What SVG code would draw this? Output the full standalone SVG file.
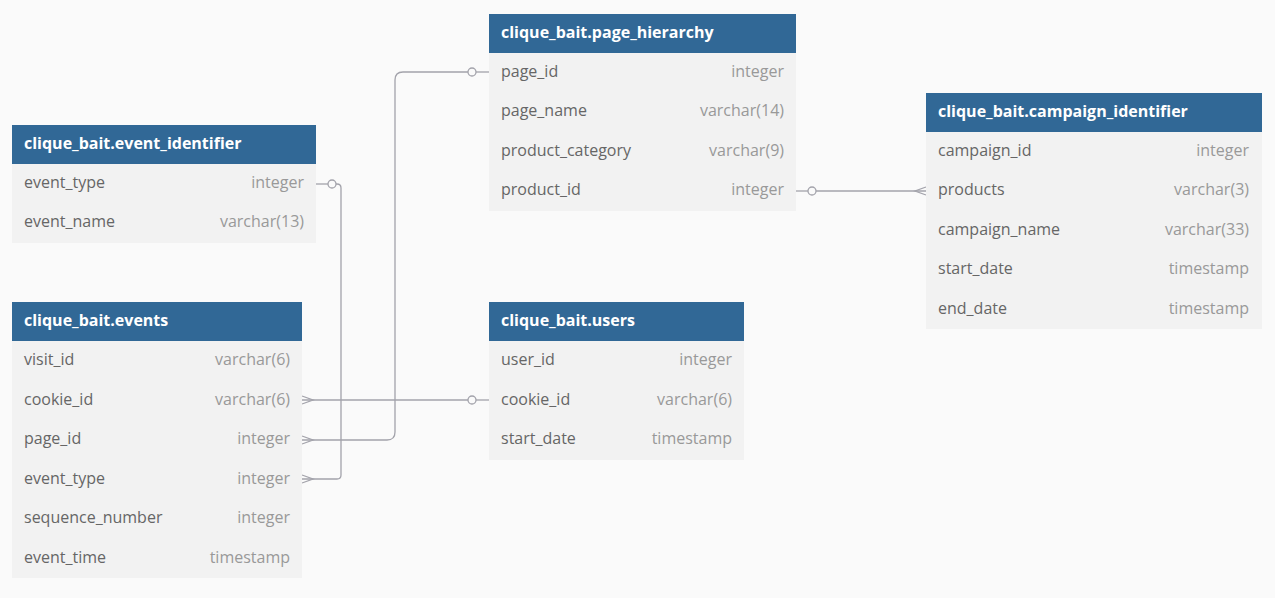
<svg xmlns="http://www.w3.org/2000/svg" width="1275" height="598" viewBox="0 0 1275 598">
<style>
.bg{fill:#fafafa}
.hd{fill:#316896}
.bd{fill:#f2f2f2}
.ht{font-family:"Open Sans",sans-serif;font-size:16px;font-weight:bold;fill:#ffffff}
.fn{font-family:"Open Sans",sans-serif;font-size:16px;fill:#666666}
.ft{font-family:"Open Sans",sans-serif;font-size:16px;fill:#999999;text-anchor:end}
.ln{fill:none;stroke:#a3a3ab;stroke-width:1.3}
.ci{fill:#fafafa;stroke:#a3a3ab;stroke-width:1.3}
</style>
<rect class="bg" x="0" y="0" width="1275" height="598"/>

<g id="connectors">
  <!-- event_identifier.event_type -> events.event_type -->
  <path class="ln" d="M316 184 H328"/>
  <circle class="ci" cx="332" cy="184" r="4"/>
  <path class="ln" d="M336 184 H337 Q341 184 341 188 V475 Q341 479 337 479 H302"/>
  <path class="ln" d="M302 475 L313 479 L302 483"/>
  <!-- events.cookie_id -> users.cookie_id -->
  <path class="ln" d="M302 400 H468"/>
  <path class="ln" d="M302 396 L313 400 L302 404"/>
  <circle class="ci" cx="472" cy="400" r="4"/>
  <path class="ln" d="M476 400 H489"/>
  <!-- events.page_id -> page_hierarchy.page_id -->
  <path class="ln" d="M302 440 H387 Q395 440 395 432 V80 Q395 72 403 72 H468"/>
  <path class="ln" d="M302 436 L313 440 L302 444"/>
  <circle class="ci" cx="472" cy="72" r="4"/>
  <path class="ln" d="M476 72 H489"/>
  <!-- page_hierarchy.product_id -> campaign_identifier.products -->
  <path class="ln" d="M796 191 H808"/>
  <circle class="ci" cx="812" cy="191" r="4"/>
  <path class="ln" d="M816 191 H926"/>
  <path class="ln" d="M926 187 L915 191 L926 195"/>
</g>

<g id="event_identifier">
  <rect class="hd" x="12" y="125" width="304" height="39"/>
  <rect class="bd" x="12" y="164" width="304" height="79"/>
  <text class="ht" x="24" y="149">clique_bait.event_identifier</text>
  <text class="fn" x="24" y="188">event_type</text><text class="ft" x="304" y="188">integer</text>
  <text class="fn" x="24" y="227">event_name</text><text class="ft" x="304" y="227">varchar(13)</text>
</g>

<g id="page_hierarchy">
  <rect class="hd" x="489" y="14" width="307" height="39"/>
  <rect class="bd" x="489" y="53" width="307" height="158"/>
  <text class="ht" x="501" y="38">clique_bait.page_hierarchy</text>
  <text class="fn" x="501" y="77">page_id</text><text class="ft" x="784" y="77">integer</text>
  <text class="fn" x="501" y="116">page_name</text><text class="ft" x="784" y="116">varchar(14)</text>
  <text class="fn" x="501" y="156">product_category</text><text class="ft" x="784" y="156">varchar(9)</text>
  <text class="fn" x="501" y="195">product_id</text><text class="ft" x="784" y="195">integer</text>
</g>

<g id="campaign_identifier">
  <rect class="hd" x="926" y="93" width="336" height="39"/>
  <rect class="bd" x="926" y="132" width="336" height="197"/>
  <text class="ht" x="938" y="117">clique_bait.campaign_identifier</text>
  <text class="fn" x="938" y="156">campaign_id</text><text class="ft" x="1249" y="156">integer</text>
  <text class="fn" x="938" y="195">products</text><text class="ft" x="1249" y="195">varchar(3)</text>
  <text class="fn" x="938" y="235">campaign_name</text><text class="ft" x="1249" y="235">varchar(33)</text>
  <text class="fn" x="938" y="274">start_date</text><text class="ft" x="1249" y="274">timestamp</text>
  <text class="fn" x="938" y="314">end_date</text><text class="ft" x="1249" y="314">timestamp</text>
</g>

<g id="events">
  <rect class="hd" x="12" y="302" width="290" height="39"/>
  <rect class="bd" x="12" y="341" width="290" height="237"/>
  <text class="ht" x="24" y="326">clique_bait.events</text>
  <text class="fn" x="24" y="365">visit_id</text><text class="ft" x="290" y="365">varchar(6)</text>
  <text class="fn" x="24" y="405">cookie_id</text><text class="ft" x="290" y="405">varchar(6)</text>
  <text class="fn" x="24" y="444">page_id</text><text class="ft" x="290" y="444">integer</text>
  <text class="fn" x="24" y="484">event_type</text><text class="ft" x="290" y="484">integer</text>
  <text class="fn" x="24" y="523">sequence_number</text><text class="ft" x="290" y="523">integer</text>
  <text class="fn" x="24" y="563">event_time</text><text class="ft" x="290" y="563">timestamp</text>
</g>

<g id="users">
  <rect class="hd" x="489" y="302" width="255" height="39"/>
  <rect class="bd" x="489" y="341" width="255" height="119"/>
  <text class="ht" x="501" y="326">clique_bait.users</text>
  <text class="fn" x="501" y="365">user_id</text><text class="ft" x="732" y="365">integer</text>
  <text class="fn" x="501" y="405">cookie_id</text><text class="ft" x="732" y="405">varchar(6)</text>
  <text class="fn" x="501" y="444">start_date</text><text class="ft" x="732" y="444">timestamp</text>
</g>
</svg>
